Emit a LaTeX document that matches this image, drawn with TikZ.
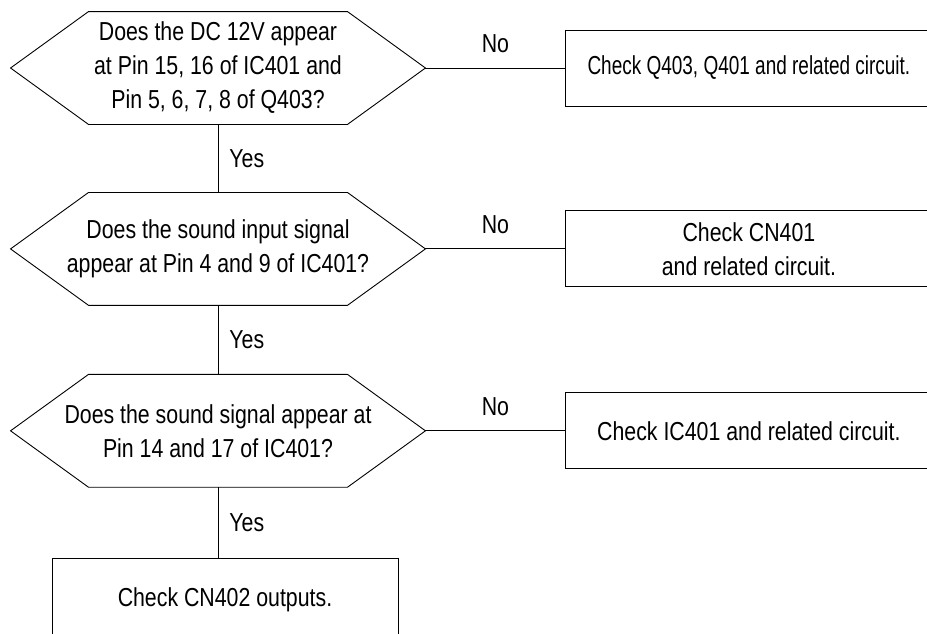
\documentclass[tikz,border=0pt]{standalone}
\usepackage{fontspec}
\setmainfont[FakeStretch=0.82]{Liberation Sans}
\usepackage{tikz}
\usetikzlibrary{shapes,positioning}

\tikzset{
    decision/.style={rectangle, minimum width=414pt, minimum height=112pt, inner sep=0pt, align=center},
    check/.style={rectangle, draw, minimum width=366pt, minimum height=76pt, align=center},
    answer/.style={inner sep=0pt}
}

\begin{document}
\begin{tikzpicture}[x=1pt, y=-1pt, node distance=68pt, line width=0.9pt, font=\fontsize{26pt}{34pt}\selectfont]
    \clip (0,0) rectangle (927,633);

    \node (dc) [decision] at (218,68) {Does the DC 12V appear\\at Pin 15, 16 of IC401 and\\Pin 5, 6, 7, 8 of Q403?};
    \node (input) [decision, below=of dc] {Does the sound input signal\\appear at Pin 4 and 9 of IC401?};
    \node (output) [decision, below=69pt of input] {Does the sound signal appear at\\Pin 14 and 17 of IC401?};
    \node (cn402) [check, below=71pt of output, xshift=7pt, minimum width=346pt, minimum height=82pt] {Check CN402 outputs.};

    \node (q403) [check, right=140pt of dc] {\scalebox{0.89}[1]{Check Q403, Q401 and related circuit.}};
    \node (cn401) [check, right=140pt of input] {Check CN401\\and related circuit.};
    \node (ic401) [check, right=140pt of output] {Check IC401 and related circuit.};

    % hexagon outlines of the questions
    \foreach \q in {dc,input,output}
        \draw (\q.west) -- ([xshift=78pt]\q.north west) -- ([xshift=-78pt]\q.north east) -- (\q.east)
            -- ([xshift=-78pt]\q.south east) -- ([xshift=78pt]\q.south west) -- cycle;

    % no branches
    \draw (dc.east) -- node [answer, above=15pt] {No} (q403.west);
    \draw (input.east) -- node [answer, above=15pt] {No} (cn401.west);
    \draw (output.east) -- node [answer, above=15pt] {No} (ic401.west);

    % yes branches
    \draw (dc.south) -- node [answer, right=11pt] {Yes} (input.north);
    \draw (input.south) -- node [answer, right=11pt] {Yes} (output.north);
    \draw (output.south) -- node [answer, right=11pt] {Yes} (output.south |- cn402.north);
\end{tikzpicture}
\end{document}
